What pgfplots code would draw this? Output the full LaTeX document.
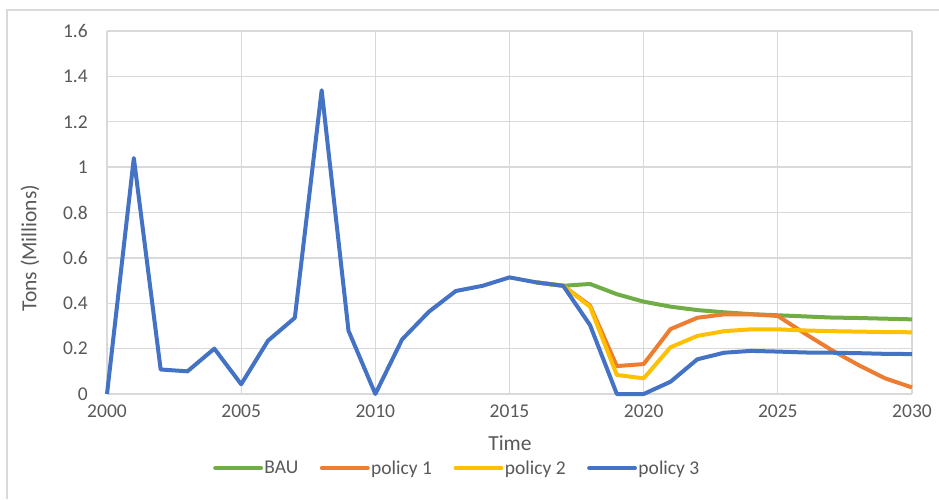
\documentclass[border=0pt]{standalone}
\usepackage{pgfplots}
\usepackage{pgfplotstable}
\pgfplotsset{compat=1.18}
\usepackage{fontspec}
\setmainfont{Carlito}
\definecolor{txt}{HTML}{595959}
\definecolor{gridc}{HTML}{D9D9D9}
\definecolor{cbau}{HTML}{70AD47}
\definecolor{cp1}{HTML}{ED7D31}
\definecolor{cp2}{HTML}{FFC000}
\definecolor{cp3}{HTML}{4472C4}
\pgfplotstableread{
year p3
2000 0
2001 1.04
2002 0.108
2003 0.10
2004 0.20
2005 0.043
2006 0.235
2007 0.336
2008 1.339
2009 0.279
2010 0
2011 0.241
2012 0.363
2013 0.454
2014 0.477
2015 0.514
2016 0.492
2017 0.477
2018 0.304
2019 0
2020 0
2021 0.054
2022 0.153
2023 0.182
2024 0.19
2025 0.187
2026 0.183
2027 0.182
2028 0.18
2029 0.177
2030 0.176
}\histtable
\pgfplotstableread{
year bau p1 p2
2016 0.492 0.492 0.492
2017 0.477 0.477 0.477
2018 0.485 0.39 0.385
2019 0.44 0.123 0.084
2020 0.407 0.132 0.069
2021 0.385 0.286 0.206
2022 0.37 0.336 0.256
2023 0.36 0.351 0.277
2024 0.352 0.351 0.285
2025 0.347 0.344 0.285
2026 0.342 0.267 0.28
2027 0.337 0.194 0.277
2028 0.335 0.128 0.275
2029 0.332 0.069 0.273
2030 0.329 0.029 0.272
}\scentable
\begin{document}
\begin{tikzpicture}
\path[use as bounding box, fill=white] (0pt,0pt) rectangle (939pt,499pt);
\draw[gridc, line width=1.3pt] (7pt,0pt) -- (7pt,489pt) -- (939pt,489pt);
\begin{axis}[
  at={(107pt,105pt)}, anchor=south west,
  scale only axis, width=805pt, height=363pt,
  xmin=2000, xmax=2030, ymin=0, ymax=1.6,
  xtick={2000,2005,...,2030},
  ytick={0,0.2,...,1.6},
  clip=false,
  axis line style={draw=none},
  major tick length=0pt,
  grid=major,
  major grid style={gridc, line width=1.3pt},
  /pgf/number format/1000 sep={},
  /pgf/number format/assume math mode=true,
  tick label style={font=\fontsize{19.5}{22}\selectfont, text=txt},
  xticklabel style={anchor=base, inner sep=0pt, yshift=-23pt},
  yticklabel style={anchor=east, inner sep=0pt, xshift=-19pt},
  xlabel={Time},
  ylabel={Tons (Millions)},
  label style={font=\fontsize{21.5}{24}\selectfont, text=txt},
  xlabel style={at={(axis description cs:0.5006,-0.135)}, anchor=center, inner sep=0pt},
  ylabel style={at={(axis description cs:-0.0957,0.402)}, anchor=center, inner sep=0pt},
  legend columns=4,
  legend style={at={(axis description cs:0.4348,-0.204)}, anchor=center, draw=none, fill=none,
    font=\fontsize{19.5}{22}\selectfont, text=txt, inner sep=0pt,
    /tikz/every even column/.append style={column sep=20pt},
    /tikz/every odd column/.append style={column sep=0pt},
    nodes={inner sep=1.5pt}},
  legend image code/.code={\draw[#1, line width=3.8pt, line cap=round] (0pt,0pt) -- (46pt,0pt);},
  every axis plot/.append style={line width=4pt, line join=round, no markers},
]
\addplot[cbau] table[x=year, y=bau] {\scentable};
\addlegendentry{BAU}
\addplot[cp1] table[x=year, y=p1] {\scentable};
\addlegendentry{policy 1}
\addplot[cp2] table[x=year, y=p2] {\scentable};
\addlegendentry{policy 2}
\addplot[cp3] table[x=year, y=p3] {\histtable};
\addlegendentry{policy 3}
\end{axis}
\end{tikzpicture}
\end{document}
